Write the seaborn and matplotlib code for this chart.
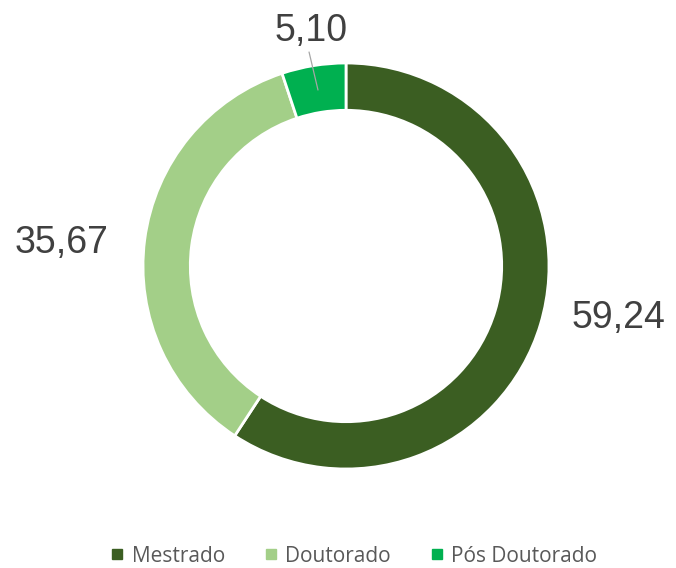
import matplotlib
matplotlib.use("Agg")
import matplotlib.pyplot as plt
from matplotlib.lines import Line2D
import seaborn as sns

categories = ["Mestrado", "Doutorado", "Pós Doutorado"]
values = [59.24, 35.67, 5.10]
colors = ["#3b5e22", "#a3cf88", "#00b050"]

sns.set_theme(style="white")
plt.rcParams["font.family"] = ["Liberation Sans", "DejaVu Sans"]

fig = plt.figure(figsize=(6.76, 5.68), dpi=100)
cx, cy, r = 346, 568 - 266, 203
ax = fig.add_axes([(cx - r) / 676, (cy - r) / 568, 2 * r / 676, 2 * r / 568])

wedges, _ = ax.pie(
    values, colors=colors, startangle=90, counterclock=False, radius=1.0,
    wedgeprops=dict(width=0.233, edgecolor="white", linewidth=2),
)
ax.set_xlim(-1, 1)
ax.set_ylim(-1, 1)
ax.set_aspect("equal")
ax.axis("off")

def fmt(v):
    return f"{v:.2f}".replace(".", ",")

label_pos = [(1.34, -0.256), (-1.40, 0.113), (-0.172, 1.158)]
for v, (x, y) in zip(values, label_pos):
    ax.text(x, y, fmt(v), ha="center", va="center", fontsize=27,
            color="#404040", clip_on=False)
ax.plot([-0.182, -0.138], [1.054, 0.867], color="#a6a6a6", lw=0.9, clip_on=False)

handles = [Line2D([0], [0], marker="s", linestyle="", markersize=6.5,
                  markerfacecolor=c, markeredgecolor=c) for c in colors]
fig.legend(handles, categories, loc="center", bbox_to_anchor=(352 / 676, 1 - 556 / 568),
           ncol=3, frameon=False, handletextpad=0.2, handlelength=1.0,
           columnspacing=1.7, labelcolor="#595959",
           prop=dict(family=["Open Sans", "DejaVu Sans"], size=15))

fig.savefig("out.png", dpi=100, facecolor="white")
